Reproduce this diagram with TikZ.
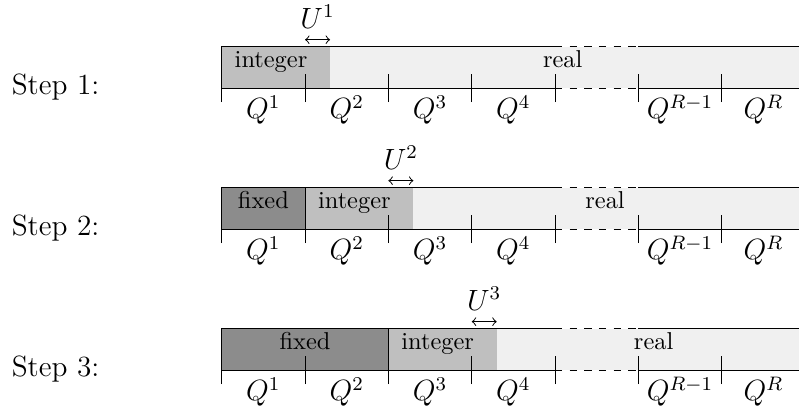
\documentclass[tikz,border=0pt]{standalone}
\usepackage{amsmath,amssymb}
\usepackage{xcolor}
\usepackage{tikz}

\begin{document}
\begin{tikzpicture}[
    fixedpart/.style={fill=black!45, draw=black},
    intpart/.style={fill=black!25},
    realpart/.style={fill=black!6},
    qlabel/.style={anchor=base, font=\large},
    steplabel/.style={anchor=base west, inner sep=0pt, font=\large},
    partlabel/.style={anchor=base},
    shiftarrow/.style={<->}
]
    \useasboundingbox (-3.193,-4.733) rectangle (8.313,1.272);

    % Rows: row / fixed intervals / position of "real"
    \foreach \row/\fx/\rx in {1/0/4.91, 2/1/5.52, 3/2/6.22} {
      \pgfmathsetmacro\yy{-2.03*(\row-1)}
      \begin{scope}[shift={(0,\yy)}]
        % Fills
        \fill[realpart] (0,0) rectangle (8.4,0.6);
        \fill[intpart] (1.2*\fx,0) rectangle (1.2*\fx+1.56,0.6);
        \ifnum\fx>0
          \draw[fixedpart] (0,0) rectangle (1.2*\fx,0.6);
          \node[partlabel] (fix\row) at (0.6*\fx,0.3) {fixed};
        \fi

        % Outline
        \draw (8.4,0.6) -- (6,0.6) (4.8,0.6) -- (0,0.6) -- (0,0) -- (4.8,0) (6,0) -- (8.4,0);
        \draw[dashed] (4.8,0.6) -- (6,0.6) (4.8,0) -- (6,0);
        \foreach \t in {0,...,6}
          \draw (1.2*\t,-0.2) -- (1.2*\t,0.2);

        % Labels
        \node[steplabel] (step\row) at (-3.03,-0.09) {Step \row:};
        \node[partlabel] (int\row) at (1.2*\fx+0.71,0.3) {integer};
        \node[partlabel] (real\row) at (\rx,0.3) {real};
        \foreach \q/\lab in {1/1, 2/2, 3/3, 4/4, 6/R-1, 7/R}
          \node[qlabel] (q\row-\q) at (1.2*\q-0.6,-0.44) {$Q^{\lab}$};

        % Arrow
        \coordinate (ua\row) at (1.2*\fx+1.2,0.7);
        \coordinate (ub\row) at (1.2*\fx+1.56,0.7);
        \draw[shiftarrow] (ua\row) -- (ub\row) node[midway, anchor=base, yshift=0.164cm, font=\large] (u\row) {$U^{\row}$};
      \end{scope}
    }
\end{tikzpicture}
\end{document}
